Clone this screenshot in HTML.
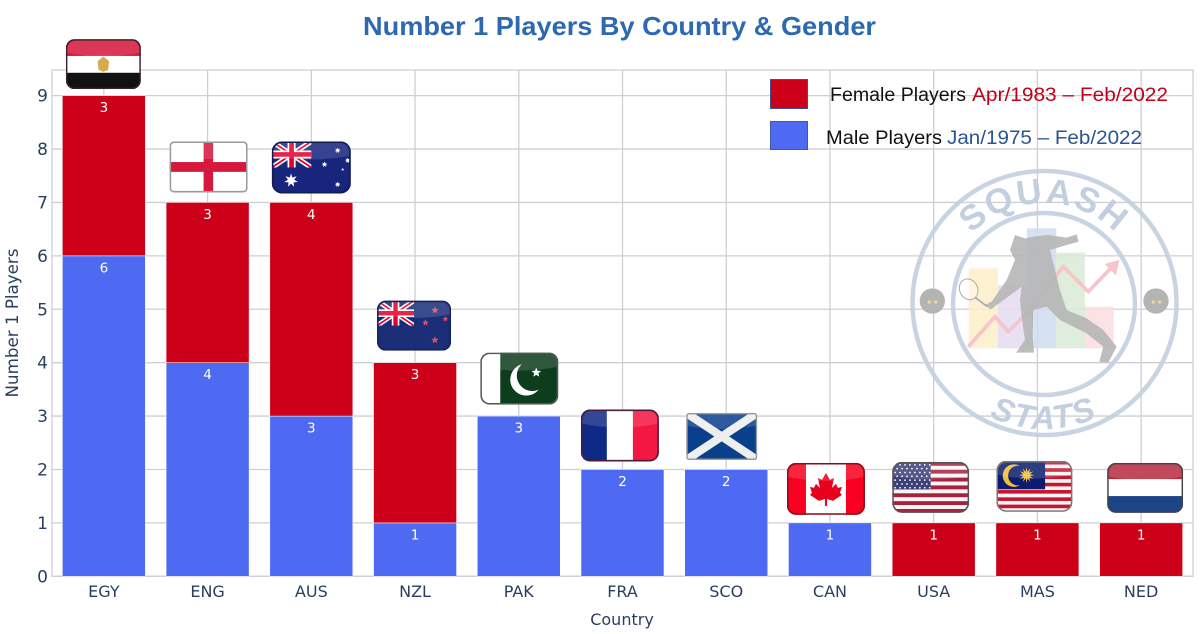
<!DOCTYPE html>
<html lang="en">
<head>
<meta charset="utf-8">
<title>Number 1 Players By Country &amp; Gender</title>
<style>
html,body{margin:0;padding:0;background:#fff;width:1200px;height:634px;overflow:hidden}
svg{display:block}
.t{font-family:"DejaVu Sans","Liberation Sans",sans-serif;fill:#2a3f5f}
.l{font-family:"Liberation Sans",sans-serif}
</style>
</head>
<body>
<svg id="chart" xmlns="http://www.w3.org/2000/svg" width="1200" height="634" viewBox="0 0 1200 634">
  <defs>
    <clipPath id="canton-clip"><rect x="0" y="0" width="39" height="26"/></clipPath>
    <path id="squash-arc" d="M 944 303 A 100 100 0 0 1 1144 303"/>
    <path id="stats-arc" d="M 918 303 A 126 126 0 0 0 1170 303"/>
  </defs>
  <rect x="0" y="0" width="1200" height="634" fill="#ffffff"/>
  <text x="619.5" y="35" text-anchor="middle" textLength="513" lengthAdjust="spacingAndGlyphs" class="l" font-size="26" font-weight="700" fill="#2d69b1">Number 1 Players By Country &amp; Gender</text>
  <g id="grid"></g>
  <g id="bars"></g>
  <g id="flags"></g>
  <g id="labels"></g>
  <g id="x-axis"></g>
  <g id="y-axis"></g>
  <text class="t" font-size="16.7" text-anchor="middle" transform="translate(18,323) rotate(-90)">Number 1 Players</text>
  <text class="t" font-size="16" text-anchor="middle" x="622" y="625">Country</text>

  <g>
    <rect x="770.5" y="79.5" width="37" height="29" fill="#cc0018" stroke="#3f4f8f" stroke-width="1"/>
    <text class="l" x="830" y="101" font-size="19" fill="#111" textLength="136" lengthAdjust="spacingAndGlyphs">Female Players</text>
    <text class="l" x="972" y="101" font-size="19" fill="#c00018" textLength="196" lengthAdjust="spacingAndGlyphs">Apr/1983 – Feb/2022</text>
    <rect x="770.5" y="121.5" width="37" height="28" fill="#4f6af2" stroke="#3f5aa0" stroke-width="1"/>
    <text class="l" x="826" y="144" font-size="19" fill="#111" textLength="116" lengthAdjust="spacingAndGlyphs">Male Players</text>
    <text class="l" x="947" y="144" font-size="19" fill="#2a5590" textLength="195" lengthAdjust="spacingAndGlyphs">Jan/1975 – Feb/2022</text>
  </g>

  <g>
    <circle cx="1044.5" cy="303" r="132" fill="none" stroke="#c3cfdf" stroke-width="4.5" opacity=".9"/>
    <circle cx="1044" cy="304" r="91" fill="none" stroke="#c3cfdf" stroke-width="4.5" opacity=".9"/>
    <text class="l" font-size="35" font-weight="700" fill="#c3cfdf" letter-spacing="2" text-anchor="middle"><textPath href="#squash-arc" startOffset="50%">SQUASH</textPath></text>
    <text class="l" font-size="33" font-weight="700" font-style="italic" fill="#c3cfdf" letter-spacing="2" text-anchor="middle"><textPath href="#stats-arc" startOffset="50%">STATS</textPath></text>
    <g transform="translate(900,170) scale(0.3333)">
      <rect x="206" y="295" width="88" height="240" fill="#fdeec9" opacity=".85"/>
      <rect x="294" y="346" width="88" height="189" fill="#e4dcf0" opacity=".85"/>
      <rect x="381" y="175" width="88" height="360" fill="#cfdcf0" opacity=".85"/>
      <rect x="469" y="248" width="86" height="287" fill="#d9ead6" opacity=".85"/>
      <rect x="555" y="410" width="86" height="125" fill="#fbdde0" opacity=".85"/>
      <polyline points="205,530 285,440 325,485 390,420 490,290 565,365 635,292" fill="none" stroke="#f8c4ca" stroke-width="11"/>
      <polygon points="658,270 614,282 648,316" fill="#f8c4ca"/>
      <g fill="#b4b4b4" opacity=".88">
        <path d="M255,405 L275,395 L320,330 L345,270 L330,240 L345,195 L375,205 L400,200 L445,195 L500,203 L530,193 L536,215 L500,225 L450,240 L465,300 L480,360 L500,420 L560,445 L610,480 L650,530 L625,578 L598,575 L610,530 L560,490 L480,450 L440,410 L400,420 L398,500 L402,548 L348,548 L375,510 L365,440 L360,390 L365,350 L345,365 L290,405 L272,418 Z"/>
      </g>
      <ellipse cx="206" cy="358" rx="27" ry="32" transform="rotate(-25 206 358)" fill="#fff" fill-opacity=".4" stroke="#aaa" stroke-width="3"/>
      <line x1="225" y1="382" x2="262" y2="410" stroke="#aaa" stroke-width="5"/>
      <circle cx="97" cy="393" r="38" fill="#b4b4b4"/>
      <circle cx="768" cy="393" r="38" fill="#b4b4b4"/>
      <circle cx="88" cy="396" r="5" fill="#eed9a0"/><circle cx="107" cy="396" r="5" fill="#eed9a0"/>
      <circle cx="760" cy="396" r="5" fill="#eed9a0"/><circle cx="779" cy="396" r="5" fill="#eed9a0"/>
    </g>
  </g>
</svg>
<script>
const categories = ['EGY','ENG','AUS','NZL','PAK','FRA','SCO','CAN','USA','MAS','NED'];
const maleValues = [6,4,3,1,3,2,2,1,0,0,0];
const femaleValues = [3,3,4,3,0,0,0,0,1,1,1];
const yTicks = [0,1,2,3,4,5,6,7,8,9];

const NS = 'http://www.w3.org/2000/svg';
const plot = {left:52, right:1193, top:70, bottom:576.3};
const yMax = 9.48;
const xStep = (plot.right - plot.left) / categories.length;
const barW = xStep * 0.8;
const xScale = i => plot.left + xStep * (i + 0.5);
const yScale = v => plot.bottom - v * (plot.bottom - plot.top) / yMax;

function mk(tag, attrs, parent, text) {
  const el = document.createElementNS(NS, tag);
  for (const k in attrs) el.setAttribute(k, attrs[k]);
  if (text !== undefined) el.textContent = text;
  parent.appendChild(el);
  return el;
}

const gridG = document.getElementById('grid');
const barsG = document.getElementById('bars');
const labelsG = document.getElementById('labels');
const xG = document.getElementById('x-axis');
const yG = document.getElementById('y-axis');
const flagsG = document.getElementById('flags');
const gridStyle = {stroke:'#cfcfd3','stroke-width':1.3};

yTicks.forEach(t => {
  const y = yScale(t);
  const line = mk('line', Object.assign({x1:plot.left,x2:plot.right,y1:y,y2:y}, gridStyle), gridG);
  
  
  const lab = mk('text', {x:48,y:y+6,'text-anchor':'end','font-size':17,class:'t'}, yG, String(t));
  
  
});

categories.forEach((c, i) => {
  const x = xScale(i);
  const line = mk('line', Object.assign({x1:x,x2:x,y1:plot.top,y2:plot.bottom}, gridStyle), gridG);
  
  
  const lab = mk('text', {x:x,y:597,'text-anchor':'middle','font-size':16,class:'t'}, xG, c);
  
  
});

const frame = mk('rect', {x:plot.left,y:plot.top,width:plot.right-plot.left,height:plot.bottom-plot.top,fill:'none',stroke:'#cfcfd3','stroke-width':1.3}, gridG);



function segment(i, base, val, color, kind) {
  if (!val) return;
  const top = yScale(base + val);
  const r = mk('rect', {x:xScale(i)-barW/2,y:top,width:barW,height:yScale(base)-top,fill:color,stroke:'#ffffff','stroke-width':0.5}, barsG);
  
  
  const t = mk('text', {x:xScale(i),y:top+16.5,'text-anchor':'middle','font-size':13.5,fill:'#ffffff','style':'font-family:"DejaVu Sans",sans-serif'}, labelsG, String(val));
  
  
}
categories.forEach((c, i) => {
  segment(i, 0, maleValues[i], '#4f6af2', 'male');
  segment(i, maleValues[i], femaleValues[i], '#cc0018', 'female');
});

/* --- flag artwork, drawn in a 78x52 box --- */
function star(cx, cy, r, fill, n) {
  n = n || 5;
  let p = [];
  for (let k = 0; k < n * 2; k++) {
    const rad = k % 2 ? r * 0.45 : r;
    const a = -Math.PI / 2 + k * Math.PI / n;
    p.push((cx + rad * Math.cos(a)).toFixed(2) + ',' + (cy + rad * Math.sin(a)).toFixed(2));
  }
  return '<polygon points="' + p.join(' ') + '" fill="' + fill + '"/>';
}
function union() {
  return '<g clip-path="url(#canton-clip)"><rect width="39" height="26" fill="#1a2a78"/>' +
    '<path d="M0,0 L39,26 M39,0 L0,26" stroke="#fff" stroke-width="5"/>' +
    '<path d="M0,0 L39,26 M39,0 L0,26" stroke="#e4002b" stroke-width="1.8"/>' +
    '<path d="M19.5,0 V26 M0,13 H39" stroke="#fff" stroke-width="8"/>' +
    '<path d="M19.5,0 V26 M0,13 H39" stroke="#e4002b" stroke-width="4.6"/></g>';
}
function stripes(n, a, b) {
  let s = '', h = 52 / n;
  for (let k = 0; k < n; k++) s += '<rect y="' + (k*h) + '" width="78" height="' + (h+0.2) + '" fill="' + (k%2 ? b : a) + '"/>';
  return s;
}
function usaStars() {
  let s = '';
  for (let r = 0; r < 7; r++) for (let c = 0; c < 8; c++)
    s += '<circle cx="' + (3 + c*5 + (r%2)*2) + '" cy="' + (3 + r*3.9) + '" r="0.9" fill="#fff"/>';
  return s;
}
const flagArt = {
  EGY: '<rect width="78" height="17.5" fill="#d8173c"/><rect y="17.5" width="78" height="17.5" fill="#fff"/><rect y="35" width="78" height="17" fill="#111"/><path d="M39,18 L45,23 L44,32 L39,34 L34,32 L33,23 Z" fill="#d9a94f"/>',
  ENG: '<rect width="78" height="52" fill="#fff"/><rect x="34" width="9.5" height="52" fill="#d8173c"/><rect y="21" width="78" height="10" fill="#d8173c"/>',
  AUS: '<rect width="78" height="52" fill="#17257c"/>' + union() + star(19,39,7,'#fff',7) + star(65,9,3,'#fff',7) + star(52,23,3,'#fff',7) + star(65,43,3,'#fff',7) + star(75,19,3,'#fff',7) + star(70,28,1.6,'#fff'),
  NZL: '<rect width="78" height="52" fill="#1a2f78"/>' + union() + star(61,10,4,'#e04b6a') + star(51,23,3.6,'#e04b6a') + star(72,19,3.2,'#e04b6a') + star(61,41,4,'#e04b6a'),
  PAK: '<rect width="20" height="52" fill="#fff"/><rect x="20" width="58" height="52" fill="#0e3d1e"/><circle cx="46" cy="27" r="16" fill="#fff"/><circle cx="52" cy="23" r="15.5" fill="#0e3d1e"/>' + star(56,20,5,'#fff'),
  FRA: '<rect width="26" height="52" fill="#0f2a86"/><rect x="26" width="26" height="52" fill="#fff"/><rect x="52" width="26" height="52" fill="#f41743"/>',
  SCO: '<rect width="78" height="52" fill="#0a3f8c"/><path d="M0,0 L78,52 M78,0 L0,52" stroke="#eeeeee" stroke-width="9"/>',
  CAN: '<rect width="78" height="52" fill="#fff"/><rect width="19" height="52" fill="#f8001f"/><rect x="59" width="19" height="52" fill="#f8001f"/><path d="M39,10 L43,17 L47,15 L45,25 L49,21 L51,25 L55,24 L53,30 L55,32 L46,38 L40,36 L40,43 L38,43 L38,36 L32,38 L23,32 L25,30 L23,24 L27,25 L29,21 L33,25 L31,15 L35,17 Z" fill="#e8001c"/>',
  USA: stripes(13, '#a8213e', '#f6f6f6') + '<rect width="39" height="28" fill="#3c3f78"/>' + usaStars(),
  MAS: stripes(14, '#c9152f', '#f6f6f6') + '<rect width="50" height="29" fill="#0c1c6c"/><circle cx="18" cy="15" r="11.5" fill="#f2bf3a"/><circle cx="22" cy="15" r="10" fill="#0c1c6c"/>' + star(31,14.5,8,'#f2bf3a',12),
  NED: '<rect width="78" height="17" fill="#b82a42"/><rect y="17" width="78" height="17.5" fill="#fff"/><rect y="34.5" width="78" height="17.5" fill="#1c4586"/>'
};
const flagBorder = {EGY:'#3a2226',ENG:'#9a9a9a',AUS:'#111c55',NZL:'#14225a',PAK:'#555',FRA:'#4a1d3a',SCO:'#999',CAN:'#8a0f1c',USA:'#555',MAS:'#777',NED:'#444'};
const flagRadius = {EGY:9,ENG:4,AUS:10,NZL:9,PAK:9,FRA:9,SCO:3,CAN:9,USA:10,MAS:10,NED:9};
/* flag placement relative to the stack top: [x offset from bar centre, width, gap above bar, height] */
const flagPlacement = {
  EGY:[-38,75,6.5,50], ENG:[-38,78,10,51], AUS:[-39.5,79,9,52], NZL:[-38,74,12,50],
  PAK:[-38.5,78,11.5,52], FRA:[-41.6,78,8,52], SCO:[-40,71,9.5,47], CAN:[-43,78,8,52],
  USA:[-41.5,77,10,51], MAS:[-41,76,11,51], NED:[-34,76,10,50]
};
categories.forEach((c, i) => {
  const [dx, w, gap, h] = flagPlacement[c];
  const rx = flagRadius[c];
  const total = maleValues[i] + femaleValues[i];
  const f = mk('svg', {x:xScale(i)+dx,y:yScale(total)-gap-h,width:w,height:h,viewBox:'0 0 78 52',preserveAspectRatio:'none'}, flagsG);
  
  
  f.innerHTML = '<clipPath id="clip-' + c + '"><rect width="78" height="52" rx="' + rx + '"/></clipPath>' +
    '<g clip-path="url(#clip-' + c + ')">' + flagArt[c] +
    '<path d="M0,0 H78 V14 Q39,22 0,14 Z" fill="#fff" opacity=".14"/></g>' +
    '<rect x="0.8" y="0.8" width="76.4" height="50.4" rx="' + (rx-0.5) + '" fill="none" stroke="' + flagBorder[c] + '" stroke-width="1.6"/>';
});
</script>
</body>
</html>
